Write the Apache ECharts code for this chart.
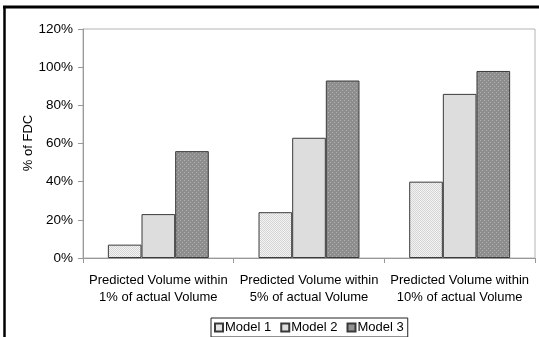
<!DOCTYPE html>
<html>
<head>
<meta charset="utf-8">
<script src="https://cdn.jsdelivr.net/npm/echarts@6/dist/echarts.min.js"></script>
<style>
  html, body { margin: 0; padding: 0; background: #fff; }
  #chart { width: 539px; height: 337px; }
</style>
</head>
<body>
<div id="chart"></div>
<script>
// Category labels along the x axis
const categories = [
  'Predicted Volume within\n1% of actual Volume',
  'Predicted Volume within\n5% of actual Volume',
  'Predicted Volume within\n10% of actual Volume'
];
// Share of FDC (%) per model
const model1 = [7, 24, 40];
const model2 = [23, 63, 86];
const model3 = [56, 93, 98];
const seriesNames = ['Model 1', 'Model 2', 'Model 3'];
const yTitle = '% of FDC';

// Small repeating dot textures for the bar fills
function dotPattern(base, dot, step) {
  const c = document.createElement('canvas');
  c.width = step; c.height = step;
  const g = c.getContext('2d');
  g.fillStyle = base;
  g.fillRect(0, 0, step, step);
  g.fillStyle = dot;
  g.fillRect(0, 0, 1, 1);
  if (step >= 2) g.fillRect(Math.floor(step / 2), Math.floor(step / 2), 1, 1);
  return { image: c, repeat: 'repeat' };
}

const fill1 = dotPattern('#f4f4f4', '#d4d4d4', 2);
const fill2 = '#dddddd';
const fill3 = dotPattern('#8e8e8e', '#aeaeae', 4);

const chart = echarts.init(document.getElementById('chart'));
const font = 'Liberation Sans, Arial, sans-serif';
const barStyle = (color) => ({ color: color, borderColor: '#3a3a3a', borderWidth: 1 });

chart.setOption({
  animation: false,
  backgroundColor: '#ffffff',
  textStyle: { fontFamily: font },
  grid: {
    left: 83, right: 4, top: 29, bottom: 79,
    show: true, borderColor: '#b4b4b4', borderWidth: 1
  },
  legend: {
    data: seriesNames,
    left: 211, top: 318,
    orient: 'horizontal',
    itemWidth: 8, itemHeight: 8, itemGap: 9,
    padding: [3, 4, 3, 3],
    borderColor: '#222', borderWidth: 1,
    icon: 'rect',
    textStyle: { fontFamily: font, fontSize: 13, color: '#000', padding: [0, 0, 0, -3] }
  },
  xAxis: {
    type: 'category',
    data: categories,
    axisLine: { lineStyle: { color: '#999', width: 1 } },
    axisTick: { show: true, length: 5, lineStyle: { color: '#999' } },
    axisLabel: {
      color: '#000', fontSize: 13, fontFamily: font,
      lineHeight: 17, margin: 14, interval: 0
    }
  },
  yAxis: {
    type: 'value',
    min: 0, max: 120, interval: 20,
    axisLine: { show: true, lineStyle: { color: '#999', width: 1 } },
    axisTick: { show: true, length: 5, lineStyle: { color: '#999' } },
    splitLine: { show: false },
    axisLabel: { color: '#000', fontSize: 13.5, fontFamily: font, margin: 10, formatter: '{value}%' }
  },
  series: [
    { name: seriesNames[0], type: 'bar', data: model1, barGap: '0%', barCategoryGap: '33%', itemStyle: barStyle(fill1) },
    { name: seriesNames[1], type: 'bar', data: model2, barGap: '0%', barCategoryGap: '33%', itemStyle: barStyle(fill2) },
    { name: seriesNames[2], type: 'bar', data: model3, barGap: '0%', barCategoryGap: '33%', itemStyle: barStyle(fill3) }
  ],
  graphic: [
    // outer frame strokes along the top and left edges
    { type: 'line', shape: { x1: 3, y1: 7, x2: 539, y2: 7 }, style: { stroke: '#000', lineWidth: 3 } },
    { type: 'line', shape: { x1: 4.5, y1: 6, x2: 4.5, y2: 337 }, style: { stroke: '#000', lineWidth: 2.5 } },
    // value axis title
    {
      type: 'text', x: 28, y: 143, rotation: Math.PI / 2,
      style: { text: yTitle, fill: '#000', font: '13px ' + font, align: 'center', verticalAlign: 'middle' }
    }
  ]
});
</script>
</body>
</html>
